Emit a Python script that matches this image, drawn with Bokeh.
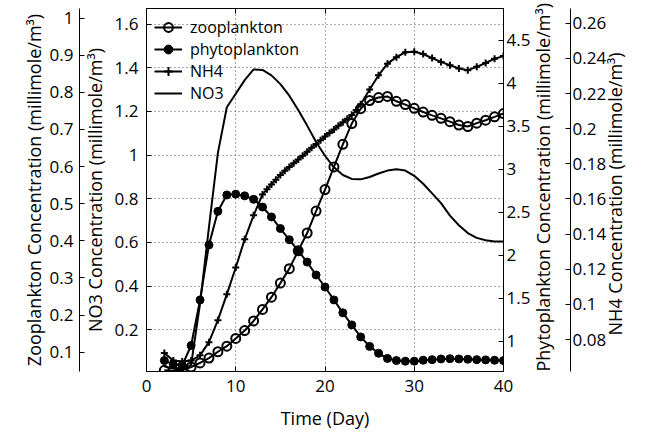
import math
from bokeh.plotting import figure
from bokeh.models import Range1d, LinearAxis, FixedTicker, Legend, LegendItem
from bokeh.embed import file_html
from bokeh.resources import INLINE

# ---------------- data ----------------
days = list(range(2, 41))

zooplankton = [0.051, 0.050, 0.051, 0.060, 0.071, 0.084, 0.101, 0.116, 0.137, 0.158,
               0.184, 0.215, 0.248, 0.286, 0.325, 0.373, 0.421, 0.480, 0.538, 0.599,
               0.660, 0.716, 0.756, 0.778, 0.786, 0.789, 0.776, 0.767, 0.757, 0.747,
               0.738, 0.730, 0.721, 0.712, 0.708, 0.717, 0.725, 0.734, 0.743]

phytoplankton = [0.775, 0.73, 0.72, 0.95, 1.48, 2.12, 2.51, 2.70, 2.71, 2.69,
                 2.65, 2.56, 2.445, 2.31, 2.18, 2.05, 1.92, 1.77, 1.63, 1.48,
                 1.33, 1.19, 1.05, 0.94, 0.86, 0.80, 0.775, 0.768, 0.768, 0.779,
                 0.786, 0.794, 0.797, 0.794, 0.79, 0.786, 0.783, 0.779, 0.775]

no3 = [0.032, 0.023, 0.018, 0.04, 0.32, 0.67, 1.01, 1.219, 1.281, 1.343,
       1.392, 1.39, 1.365, 1.325, 1.272, 1.206, 1.135, 1.06, 0.997, 0.944,
       0.909, 0.891, 0.889, 0.90, 0.916, 0.929, 0.935, 0.929, 0.905, 0.869,
       0.825, 0.78, 0.723, 0.679, 0.643, 0.621, 0.61, 0.605, 0.605]

nh4_days = [2, 3, 4, 5, 6, 7, 8, 9, 10, 11, 12,
            13, 13.5, 14, 14.5, 15, 15.5, 16, 16.5, 17, 17.5, 18, 18.5, 19, 19.5,
            20, 20.5, 21, 21.5, 22, 22.5, 23, 23.5, 24,
            25, 26, 27, 28, 29, 30, 31, 32, 33, 34, 35, 36, 37, 38, 39, 40]
nh4 = [0.0723, 0.068, 0.0675, 0.068, 0.071, 0.0785, 0.091, 0.1057, 0.121, 0.137, 0.1507,
       0.1626, 0.1655, 0.1683, 0.1710, 0.1737, 0.1760, 0.1782, 0.1803, 0.1824, 0.1846,
       0.1869, 0.1891, 0.1913, 0.1934, 0.1955, 0.1976, 0.1996, 0.2016, 0.2037, 0.2057,
       0.2078, 0.2106, 0.2139,
       0.2223, 0.2304, 0.237, 0.2407, 0.2435, 0.2438, 0.2425, 0.2402, 0.238, 0.2361,
       0.2343, 0.2333, 0.2352, 0.2374, 0.2398, 0.2413]

x_ticks = [0, 10, 20, 30, 40]
no3_ticks = [0.2, 0.4, 0.6, 0.8, 1.0, 1.2, 1.4, 1.6]
zoo_ticks = [0.1, 0.2, 0.3, 0.4, 0.5, 0.6, 0.7, 0.8, 0.9, 1.0]
phyto_ticks = [1.0, 1.5, 2.0, 2.5, 3.0, 3.5, 4.0, 4.5]
nh4_ticks = [0.08, 0.10, 0.12, 0.14, 0.16, 0.18, 0.20, 0.22, 0.24, 0.26]

FONT = "Open Sans"
TICK_FS = "17px"
LABEL_FS = "18px"
LEGEND_FS = "16px"

p = figure(width=652, height=432, x_range=Range1d(0, 40), y_range=Range1d(0.0095, 1.671),
           output_backend="svg", toolbar_location=None,
           min_border_left=146, min_border_right=149, min_border_top=8, min_border_bottom=49)
p.extra_y_ranges = {
    "zoo": Range1d(0.0478, 1.026),
    "phyto": Range1d(0.648, 4.868),
    "nh4": Range1d(0.0618, 0.2684),
}
p.outline_line_color = "black"
p.outline_line_alpha = 1
p.background_fill_color = "white"
p.border_fill_color = "white"

HAS_ALIGN = "axis_label_align" in LinearAxis.properties()


def style_axis(ax, standoff, label_standoff):
    ax.major_tick_in = 5
    ax.major_tick_out = 0
    ax.minor_tick_in = 0
    ax.minor_tick_out = 0
    ax.major_tick_line_color = "black"
    ax.axis_line_color = "black"
    ax.major_label_text_font = FONT
    ax.major_label_text_font_size = TICK_FS
    ax.major_label_text_color = "black"
    ax.axis_label_text_font = FONT
    ax.axis_label_text_font_size = LABEL_FS
    ax.axis_label_text_font_style = "normal"
    ax.axis_label_text_color = "black"
    ax.major_label_standoff = standoff
    ax.axis_label_standoff = label_standoff


# x axis (bottom)
xa = p.xaxis[0]
xa.ticker = FixedTicker(ticks=x_ticks)
xa.axis_label = "Time (Day)"
style_axis(xa, 8, 11)

# top border ticks (no labels)
top_axis = LinearAxis(ticker=FixedTicker(ticks=x_ticks),
                      major_label_overrides={t: "" for t in x_ticks})
style_axis(top_axis, 0, 0)
p.add_layout(top_axis, "above")

# NO3 (inner left)
ya = p.yaxis[0]
ya.ticker = FixedTicker(ticks=no3_ticks)
ya.major_label_overrides = {1.0: "1"}
ya.axis_label = "NO3 Concentration (millimole/m³)"
style_axis(ya, 8, 5)

# Zooplankton (outer left)
zoo_axis = LinearAxis(y_range_name="zoo", ticker=FixedTicker(ticks=zoo_ticks),
                      axis_label="Zooplankton Concentration (millimole/m³)")
zoo_axis.major_label_overrides = {1.0: "1"}
style_axis(zoo_axis, 6, 1)
p.add_layout(zoo_axis, "left")

# right side axes, labels reading bottom-to-top
phyto_axis = LinearAxis(y_range_name="phyto", ticker=FixedTicker(ticks=phyto_ticks),
                        axis_label="Phytoplankton Concentration (millimole/m³)")
phyto_axis.major_label_overrides = {1.0: "1", 2.0: "2", 3.0: "3", 4.0: "4"}
style_axis(phyto_axis, 3, 10)
phyto_axis.axis_label_orientation = math.pi / 2
if HAS_ALIGN:
    phyto_axis.axis_label_align = "start"
p.add_layout(phyto_axis, "right")

nh4_axis = LinearAxis(y_range_name="nh4", ticker=FixedTicker(ticks=nh4_ticks),
                      axis_label="\u2003\u2003NH4 Concentration (millimole/m³)")
nh4_axis.major_label_overrides = {0.1: "0.1", 0.2: "0.2"}
style_axis(nh4_axis, 2, 6)
nh4_axis.axis_label_orientation = math.pi / 2
if HAS_ALIGN:
    nh4_axis.axis_label_align = "start"
p.add_layout(nh4_axis, "right")

# grid
for g in (p.xgrid[0], p.ygrid[0]):
    g.grid_line_color = "#555555"
    g.grid_line_dash = "1 3"
    g.grid_line_width = 1
p.xgrid[0].ticker = FixedTicker(ticks=x_ticks)
p.ygrid[0].ticker = FixedTicker(ticks=no3_ticks)

# series
LW = 2
z_line = p.line(days, zooplankton, y_range_name="zoo", line_color="black", line_width=LW)
z_mark = p.scatter(days, zooplankton, y_range_name="zoo", marker="circle", size=9,
                   line_color="black", line_width=2, fill_alpha=0)

ph_line = p.line(days, phytoplankton, y_range_name="phyto", line_color="black", line_width=LW)
ph_mark = p.scatter(days, phytoplankton, y_range_name="phyto", marker="circle", size=8,
                    line_color="black", fill_color="black")

n4_line = p.line(nh4_days, nh4, y_range_name="nh4", line_color="black", line_width=LW)
n4_mark = p.scatter(nh4_days, nh4, y_range_name="nh4", marker="cross", size=7,
                    line_color="black", line_width=2)

n3_line = p.line(days, no3, line_color="black", line_width=LW)

legend = Legend(items=[
    LegendItem(label="zooplankton", renderers=[z_line, z_mark]),
    LegendItem(label="phytoplankton", renderers=[ph_line, ph_mark]),
    LegendItem(label="NH4", renderers=[n4_line, n4_mark]),
    LegendItem(label="NO3", renderers=[n3_line]),
], location="top_left")
legend.margin = 0
legend.padding = 8
legend.spacing = 0
legend.label_height = 22
legend.glyph_height = 22
legend.glyph_width = 28
legend.label_standoff = 8
legend.label_text_font = FONT
legend.label_text_font_size = LEGEND_FS
legend.label_text_color = "black"
legend.background_fill_alpha = 0
legend.border_line_alpha = 0
p.add_layout(legend)

open("out.html", "w").write(file_html(p, INLINE))
